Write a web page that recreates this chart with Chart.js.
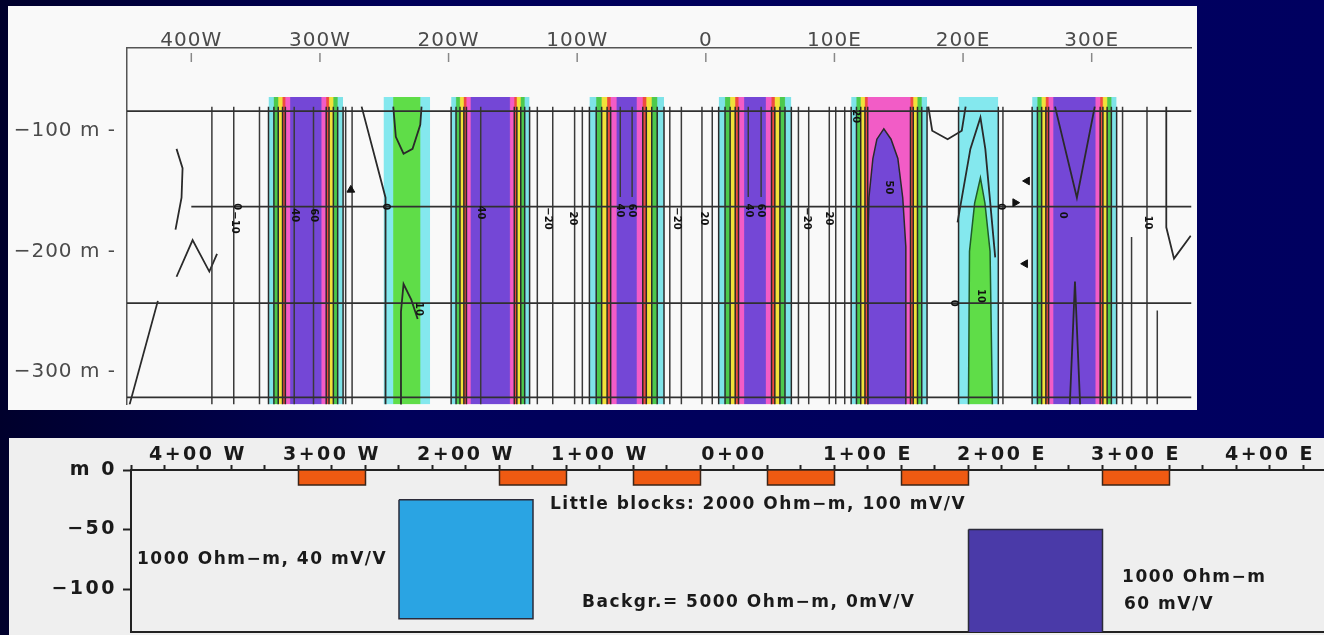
<!DOCTYPE html>
<html>
<head>
<meta charset="utf-8">
<script src="https://cdn.jsdelivr.net/npm/chart.js@4.4.1/dist/chart.umd.min.js"></script>
<style>
  html, body { margin: 0; padding: 0; width: 1324px; height: 635px; overflow: hidden; }
  body { position: relative; background: linear-gradient(90deg, #00002c 0%, #00005a 30%, #000060 100%); }
  #top { position: absolute; left: 8px; top: 6px; background: #f9f9f9; }
  #bottom { position: absolute; left: 9px; top: 438px; background: #efefef; }
</style>
</head>
<body>
<canvas id="top" width="1189" height="404"></canvas>
<canvas id="bottom" width="1315" height="197"></canvas>
<script>
// ---------- top panel : pseudosection ----------
const stationTicks = [-400, -300, -200, -100, 0, 100, 200, 300];
const depthTicks = [-300, -200, -100];

// anomaly bands along the line (m)
const bandStart = [-340, -250.6, -198, -90.5, 10, 113, 196.5, 253.7];
const bandEnd   = [-282, -214.3, -137, -32.5, 66.5, 172, 227.4, 319.4];
const bandKind  = ['P', 'G', 'P', 'P', 'P', 'A', 'C', 'P'];
const bandCore  = [0.42, 0.58, 0.5, 0.27, 0.3, 0.44, 0, 0.5];
const bandTop = -72;

// purple arch under 1+50 E and green spike under 2+10 E
const archX = [126, 126, 126.8, 129.9, 133, 138.4, 144, 149.3, 153.1, 155.5, 155.5];
const archY = [-327, -196, -155.5, -123, -107, -98.4, -107, -123, -155.5, -196, -327];
const spikeX = [204.2, 205, 209, 213.5, 217, 221, 222.8];
const spikeY = [-327, -200, -160, -139, -160, -200, -327];

// straight contours in the quiet zones
const contourX   = [-384, -367, -347, -280, -275, -131, -119, -102, -96, -28, -19, -3, 5, 72, 80, 96, 101, 108, 231, 324, 331, 343, 351, -66.5, -57.3, 33, 43, -320, -305, -175];
const contourTop = [-80, -80, -80, -80, -80, -80, -80, -80, -80, -80, -80, -80, -80, -80, -80, -80, -80, -80, -80, -80, -188, -80, -249, -80, -80, -80, -80, -80, -80, -80];
const contourBot = [-327, -327, -327, -327, -327, -327, -327, -327, -327, -327, -327, -327, -327, -327, -327, -327, -327, -327, -327, -327, -327, -327, -327, -155, -155, -155, -155, -327, -327, -327];

// curved contours
const curveX = [
  [-243, -241, -235, -228, -222, -221],
  [-237.5, -237, -235, -229, -224],
  [173, 176, 188, 199, 202],
  [195.7, 205.7, 213.5, 217.3, 225],
  [-411.5, -406.8, -407.6, -412.3],
  [-411.5, -399, -386, -380],
  [-448, -426],
  [271.5, 288.5, 302.4],
  [283, 287, 291],
  [358, 358, 364, 377],
  [-267.6, -249, -249]
];
const curveY = [
  [-80, -105, -119, -115, -95, -80],
  [-327, -250, -227, -240, -256],
  [-80, -100, -107, -100, -80],
  [-176, -115, -89, -115, -205],
  [-115, -131, -155.5, -182],
  [-221, -190.6, -216.7, -202],
  [-327, -241],
  [-80, -155.5, -80],
  [-327, -225, -327],
  [-80, -180, -206, -187],
  [-80, -155.5, -327]
];

// n-levels
const hLineY    = [-83.7, -162.9, -242.9, -321];
const hLineFrom = [-450, -400, -450, -450];

// arrow heads
const markX = [-276, 249.8, 240.5, 248.3];
const markY = [-149, -141.6, -159.6, -210.2];
const markRot = [0, 270, 90, 270];

// contour labels
const labelX = [-123, -103.6, -22.4, -1.5, 78.1, 95.1, -365, -249, 229, 193, -366, 343.4, -223.5, -174.8, -67.3, -58, 33, 42.5, 116.8, 142.3, 213.5, 277.7, -320, -305];
const labelY = [-172.7, -172.7, -172.7, -172.7, -172.7, -172.7, -162.9, -162.9, -162.9, -242.9, -176, -176, -247.8, -167.8, -166, -166, -166, -166, -88, -147, -237, -170, -170, -170];
const labelText = ['−20', '20', '−20', '20', '−20', '20', '0', '0', '0', '0', '−10', '10', '10', '40', '40', '60', '40', '60', '20', '50', '10', '0', '40', '60'];

// ---------- bottom panel : model ----------
const depthTicksB = [-100, -50, 0];
const littleX0 = [-325, -175, -75, 25, 125, 275];
const littleX1 = [-275, -125, -25, 75, 175, 325];
const littleTop = 0, littleBot = -12.5;
const bigX0 = [-250, 175];
const bigX1 = [-150, 275];
const bigTop = [-25, -50];
const bigBot = [-125, -150];
const bigColor = ['#2aa4e3', '#4a3aa8'];

const C = {
  cyan: '#7ee3e8', green: '#4cc94c', yellow: '#f1e13a', red: '#ee4b3e',
  pink: '#f25cc6', purple: '#7447d6', cyan2: '#84e8ee', green2: '#5fdd48'
};

function layersFor(i) {
  const k = bandKind[i], core = bandCore[i];
  if (k === 'G') return [[0, C.cyan2], [1 - core, C.green2]];
  if (k === 'C') return [[0, C.cyan2]];
  const o = 1 - core;
  return [[0, C.cyan], [0.25 * o, C.green], [0.45 * o, C.yellow], [0.65 * o, C.red], [0.78 * o, C.pink], [o, k === 'A' ? C.pink : C.purple]];
}

function bandFill(chart, i) {
  if (!chart.chartArea) return C.cyan;
  const xs = chart.scales.x;
  const g = chart.ctx.createLinearGradient(xs.getPixelForValue(bandStart[i]), 0, xs.getPixelForValue(bandEnd[i]), 0);
  const L = layersFor(i), n = L.length, segs = [];
  for (let k = 0; k < n; k++) segs.push([L[k][0] / 2, k + 1 < n ? L[k + 1][0] / 2 : 0.5, L[k][1]]);
  for (let k = n - 1; k >= 0; k--) segs.push([1 - (k + 1 < n ? L[k + 1][0] / 2 : 0.5), 1 - L[k][0] / 2, L[k][1]]);
  const e = 0.008;
  segs.forEach(([a, b, col]) => {
    g.addColorStop(a === 0 ? 0 : Math.min(1, a + e), col);
    g.addColorStop(b === 1 ? 1 : Math.max(0, b - e), col);
  });
  return g;
}

function boundaryFracs(i) {
  const k = bandKind[i];
  if (k === 'G') return [];
  if (k === 'C') return [0];
  const o = 1 - bandCore[i];
  return [0, 0.25 * o, 0.45 * o, 0.65 * o, 0.78 * o];
}

// fixed axis sizes, no extra label padding
function fixSize(prop, val) {
  return s => {
    s[prop] = val;
    s.paddingTop = 0; s.paddingBottom = 0; s.paddingLeft = 0; s.paddingRight = 0;
  };
}

const notesPlugin = {
  id: 'notes',
  beforeDraw(chart, args, opts) {
    chart.ctx.letterSpacing = opts.spacing || '0px';
  },
  afterDatasetsDraw(chart, args, opts) {
    const ctx = chart.ctx, xs = chart.scales.x, ys = chart.scales.y;
    (opts.items || []).forEach(n => {
      ctx.save();
      ctx.letterSpacing = opts.noteSpacing || '0px';
      ctx.font = opts.font;
      ctx.fillStyle = opts.color;
      ctx.translate(xs.getPixelForValue(n.x), ys.getPixelForValue(n.y));
      ctx.rotate((n.rot || 0) * Math.PI / 180);
      ctx.textAlign = n.align || 'center';
      ctx.textBaseline = 'middle';
      ctx.fillText(n.text, 0, 0);
      ctx.restore();
    });
  }
};

const line = (pts, color, width, order) => ({
  data: pts, showLine: true, pointRadius: 0, borderColor: color, borderWidth: width, fill: false, order: order
});

// ---- top datasets ----
const topSets = [];
bandStart.forEach((x0, i) => {
  topSets.push({
    data: [{x: x0, y: bandTop}, {x: bandEnd[i], y: bandTop}],
    showLine: true, pointRadius: 0, borderWidth: 0, borderColor: 'transparent',
    fill: 'start', backgroundColor: c => bandFill(c.chart, i), order: 9
  });
});
topSets.push({
  data: archX.map((x, i) => ({x: x, y: archY[i]})),
  showLine: true, pointRadius: 0, borderWidth: 1.5, borderColor: '#2a2a2a',
  fill: 'start', backgroundColor: C.purple, order: 8
});
topSets.push({
  data: spikeX.map((x, i) => ({x: x, y: spikeY[i]})),
  showLine: true, pointRadius: 0, borderWidth: 1.5, borderColor: '#1f5a2a',
  fill: 'start', backgroundColor: C.green2, order: 8
});
bandStart.forEach((x0, i) => {
  const w = bandEnd[i] - x0;
  boundaryFracs(i).forEach(f => {
    [x0 + f * w / 2, bandEnd[i] - f * w / 2].forEach(x => {
      topSets.push(line([{x: x, y: -80}, {x: x, y: -327}], '#2a2a2a', 1.5, 5));
    });
  });
});
contourX.forEach((x, i) => {
  topSets.push(line([{x: x, y: contourTop[i]}, {x: x, y: contourBot[i]}], '#3a3a3a', 1.5, 5));
});
curveX.forEach((xs, i) => {
  topSets.push(line(xs.map((x, j) => ({x: x, y: curveY[i][j]})), '#2a2a2a', 1.8, 5));
});
hLineY.forEach((y, i) => {
  topSets.push(line([{x: hLineFrom[i], y: y}, {x: 377.6, y: y}], '#303030', 1.6, 4));
});
stationTicks.forEach(t => {
  topSets.push(line([{x: t, y: -35.5}, {x: t, y: -43}], '#888', 1.5, 4));
});
topSets.push({
  data: markX.map((x, i) => ({x: x, y: markY[i]})),
  showLine: false, pointStyle: 'triangle', pointRadius: 4.5, pointRotation: markRot,
  backgroundColor: '#111', borderColor: '#111', order: 1
});

new Chart(document.getElementById('top'), {
  type: 'scatter',
  data: { datasets: topSets },
  plugins: [notesPlugin],
  options: {
    responsive: false,
    animation: false,
    layout: { padding: 0 },
    plugins: {
      legend: { display: false },
      tooltip: { enabled: false },
      notes: {
        spacing: '1px',
        noteSpacing: '0px',
        font: 'bold 10px "DejaVu Sans"',
        color: '#111',
        items: labelX.map((x, i) => ({x: x, y: labelY[i], text: labelText[i], rot: 90}))
      }
    },
    scales: {
      x: {
        type: 'linear', position: 'top', min: -450, max: 377.6,
        afterFit: fixSize('height', 42),
        afterBuildTicks: s => { s.ticks = stationTicks.map(v => ({value: v})); },
        grid: { display: false },
        border: { display: true, color: '#555', width: 1.5 },
        ticks: {
          autoSkip: false, maxRotation: 0, padding: -13,
          color: '#4b4b4b', font: { family: 'DejaVu Sans', size: 20 },
          callback: v => v < 0 ? (-v) + 'W' : v === 0 ? '0' : v + 'E'
        }
      },
      y: {
        type: 'linear', min: -326.9, max: -31.4,
        afterFit: fixSize('width', 119),
        afterBuildTicks: s => { s.ticks = depthTicks.map(v => ({value: v})); },
        grid: { display: false },
        border: { display: true, color: '#555', width: 1.5 },
        ticks: {
          padding: 3,
          color: '#4b4b4b', font: { family: 'DejaVu Sans', size: 20 },
          callback: v => '−' + (-v) + ' m -'
        }
      }
    }
  }
});

// ---- bottom datasets ----
const botSets = [];
littleX0.forEach((x0, i) => {
  const x1 = littleX1[i];
  botSets.push(line([{x: x0, y: littleTop}, {x: x1, y: littleTop}, {x: x1, y: littleBot}, {x: x0, y: littleBot}, {x: x0, y: littleTop}], '#3a2418', 1.5, 2));
  botSets.push({
    data: [{x: x0, y: littleTop}, {x: x1, y: littleTop}],
    showLine: true, pointRadius: 0, borderWidth: 0, borderColor: 'transparent',
    fill: { value: littleBot }, backgroundColor: '#ef5a12', order: 3
  });
});
bigX0.forEach((x0, i) => {
  const x1 = bigX1[i], t = bigTop[i], b = bigBot[i];
  botSets.push(line([{x: x0, y: t}, {x: x1, y: t}, {x: x1, y: b}, {x: x0, y: b}, {x: x0, y: t}], '#2b2b3a', 1.5, 2));
  botSets.push({
    data: [{x: x0, y: t}, {x: x1, y: t}],
    showLine: true, pointRadius: 0, borderWidth: 0, borderColor: 'transparent',
    fill: { value: b }, backgroundColor: bigColor[i], order: 3
  });
});

new Chart(document.getElementById('bottom'), {
  type: 'scatter',
  data: { datasets: botSets },
  plugins: [notesPlugin],
  options: {
    responsive: false,
    animation: false,
    layout: { padding: 0 },
    plugins: {
      legend: { display: false },
      tooltip: { enabled: false },
      notes: {
        spacing: '2.5px',
        noteSpacing: '1.5px',
        font: 'bold 17px "DejaVu Sans"',
        color: '#1a1a1a',
        items: [
          {x: -137.3, y: -29.4, text: 'Little blocks: 2000 Ohm−m, 100 mV/V', align: 'left'},
          {x: -445.5, y: -75.6, text: '1000 Ohm−m, 40 mV/V', align: 'left'},
          {x: -113.4, y: -111, text: 'Backgr.= 5000 Ohm−m, 0mV/V', align: 'left'},
          {x: 289.6, y: -90, text: '1000 Ohm−m', align: 'left'},
          {x: 291, y: -113.4, text: '60 mV/V', align: 'left'}
        ]
      }
    },
    scales: {
      x: {
        type: 'linear', position: 'top', min: -450, max: 440.3,
        afterFit: fixSize('height', 32),
        grid: { display: true, drawOnChartArea: false, drawTicks: true, tickLength: 5, tickColor: '#222', tickWidth: 2 },
        border: { display: true, color: '#222', width: 2 },
        ticks: {
          stepSize: 25, includeBounds: false, autoSkip: false, maxRotation: 0, padding: -1,
          color: '#1a1a1a', font: { family: 'DejaVu Sans', size: 19, weight: 'bold' },
          callback: v => v % 100 ? '' : v < 0 ? (-v / 100) + '+00 W' : v === 0 ? '0+00' : (v / 100) + '+00 E'
        }
      },
      xb: {
        type: 'linear', position: 'bottom', min: -450, max: 440.3,
        afterFit: fixSize('height', 3),
        grid: { display: false },
        border: { display: true, color: '#222', width: 2 },
        ticks: { display: false }
      },
      y: {
        type: 'linear', min: -136.1, max: 0,
        afterFit: fixSize('width', 122),
        afterBuildTicks: s => { s.ticks = depthTicksB.map(v => ({value: v})); },
        grid: { display: true, drawOnChartArea: false, drawTicks: true, tickLength: 8, tickColor: '#222', tickWidth: 2 },
        border: { display: true, color: '#222', width: 2 },
        ticks: {
          padding: 6,
          color: '#1a1a1a', font: { family: 'DejaVu Sans', size: 19, weight: 'bold' },
          callback: v => v === 0 ? 'm 0' : '−' + (-v)
        }
      }
    }
  }
});
</script>
</body>
</html>
